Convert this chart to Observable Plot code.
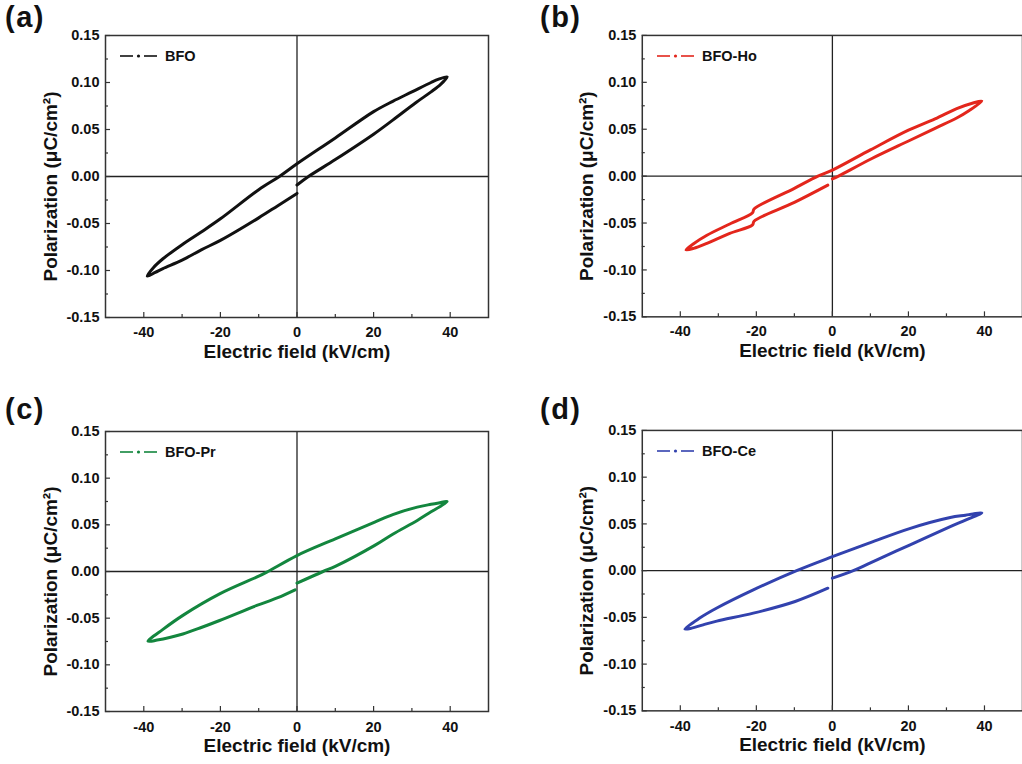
<!DOCTYPE html>
<html><head><meta charset="utf-8">
<script src="https://cdn.jsdelivr.net/npm/d3@7"></script>
<script src="https://cdn.jsdelivr.net/npm/@observablehq/plot@0.6"></script>
<style>
html,body{margin:0;padding:0;background:#fff;overflow:hidden;width:1022px;height:764px;}
#root{position:relative;width:1022px;height:764px;overflow:hidden;font-family:"Liberation Sans",Arial,sans-serif;font-weight:bold;color:#111;}
.panel{position:absolute;}
.panel svg{display:block;overflow:visible;}
.plabel{position:absolute;font-size:29px;line-height:29px;letter-spacing:1.5px;white-space:nowrap;}
.legend{position:absolute;display:flex;align-items:center;font-size:14.5px;line-height:16px;white-space:nowrap;}
</style></head><body><div id="root"></div>
<script>
// ---- data ----
// each loop: start at E=0 on lower branch -> +Emax tip -> upper branch -> -Emax tip -> lower branch back to E=0
const bfoE = [0, 3, 10, 20, 25, 31, 35, 37.5, 39.2, 37, 35, 30, 25, 20, 10, 0, -4.6, -10, -20, -25, -30, -35, -37.5, -39.1, -37, -35, -30, -25, -20, -10, -5, 0];
const bfoP = [-0.009, 0, 0.018, 0.045, 0.060, 0.0785, 0.0900, 0.098, 0.106, 0.1035, 0.100, 0.090, 0.080, 0.069, 0.041, 0.0135, 0, -0.014, -0.045, -0.059, -0.0725, -0.0875, -0.097, -0.106, -0.102, -0.098, -0.089, -0.078, -0.068, -0.044, -0.031, -0.018];

const hoE = [0, 1.6, 10, 20.3, 27, 32.7, 36, 39.3, 37, 32.7, 27, 20, 10, 0, -3.8, -10, -20.6, -21, -27, -33, -36.5, -38.5, -36.5, -33, -27, -21, -20.6, -10, -1.2];
const hoP = [-0.003, 0, 0.018, 0.038, 0.051, 0.062, 0.070, 0.080, 0.078, 0.072, 0.061, 0.049, 0.028, 0.0064, 0, -0.013, -0.035, -0.039, -0.051, -0.063, -0.072, -0.0787, -0.077, -0.0716, -0.061, -0.052, -0.048, -0.028, -0.0096];

const prE = [0, 6.8, 10, 20.3, 25, 31.4, 35, 37.5, 39.2, 37, 35, 31.4, 25, 20.3, 10, 0, -7.6, -10, -20.2, -29.8, -35, -38.9, -36.5, -33, -29.8, -25, -20.2, -10.5, -5, -0.5];
const prP = [-0.0125, 0, 0.0055, 0.028, 0.040, 0.0547, 0.064, 0.070, 0.075, 0.0735, 0.072, 0.069, 0.061, 0.053, 0.035, 0.0171, 0, -0.005, -0.024, -0.047, -0.062, -0.0747, -0.0735, -0.0705, -0.067, -0.060, -0.0525, -0.0364, -0.028, -0.0196];

const ceE = [0, 5.5, 10, 20.3, 31, 35, 39.3, 37, 35, 31, 20.3, 10, 0, -9.4, -20.8, -30.4, -35, -38.8, -37, -34, -30.4, -20.8, -9.8, -1.2];
const ceP = [-0.0081, 0, 0.0083, 0.0274, 0.047, 0.054, 0.0618, 0.0607, 0.0593, 0.0568, 0.045, 0.030, 0.0149, 0, -0.0206, -0.040, -0.051, -0.0625, -0.0615, -0.058, -0.054, -0.0455, -0.033, -0.0188];

const xMajor = [-40, -20, 0, 20, 40];
const xMinor = [-30, -10, 10, 30];
const yMajor = [-0.15, -0.10, -0.05, 0, 0.05, 0.10, 0.15];
const yMinor = [-0.125, -0.075, -0.025, 0.025, 0.075, 0.125];
const xLabel = "Electric field (kV/cm)";
const yLabel = "Polarization (μC/cm²)";
const letters = ["(a)", "(b)", "(c)", "(d)"];
const names = ["BFO", "BFO-Ho", "BFO-Pr", "BFO-Ce"];
const colors = ["#111111", "#e3261c", "#13863e", "#3242ae"];
const seriesE = [bfoE, hoE, prE, ceE];
const seriesP = [bfoP, hoP, prP, ceP];

// ---- layout ----
const layout = [
  {left: 0,   top: 0,   width: 511, height: 382, ml: 105, mr: 23, mt: 35, mb: 65, lx: 5,   ly: 3,   tp: 9},
  {left: 537, top: 0,   width: 486, height: 382, ml: 105, mr: 0,  mt: 35, mb: 65, lx: 540, ly: 3,   tp: 9},
  {left: 0,   top: 396, width: 511, height: 368, ml: 105, mr: 23, mt: 35, mb: 53, lx: 5,   ly: 395, tp: 10},
  {left: 537, top: 396, width: 486, height: 368, ml: 105, mr: 0,  mt: 34, mb: 53, lx: 540, ly: 395, tp: 10}
];

const root = document.getElementById("root");

letters.forEach((letter, k) => {
  const L = layout[k];
  const E = seriesE[k], P = seriesP[k];
  const rows = E.map((e, i) => ({E: e, P: P[i]}));
  const pw = L.width - L.ml - L.mr;
  const ph = L.height - L.mt - L.mb;
  const chart = Plot.plot({
    width: L.width, height: L.height,
    marginLeft: L.ml, marginRight: L.mr, marginTop: L.mt, marginBottom: L.mb,
    x: {domain: [-50, 50]},
    y: {domain: [-0.15, 0.15]},
    style: {fontFamily: "'Liberation Sans', Arial, sans-serif", fontSize: "14.5px", fontWeight: "bold", color: "#111", background: "transparent"},
    marks: [
      Plot.ruleY([0], {stroke: "#222", strokeWidth: 1.3}),
      Plot.ruleX([0], {stroke: "#222", strokeWidth: 1.3}),
      Plot.line(rows, {x: "E", y: "P", stroke: colors[k], strokeWidth: 3, curve: "catmull-rom", strokeLinejoin: "round", strokeLinecap: "round"}),
      Plot.frame({stroke: "#333", strokeWidth: 1.5}),
      Plot.ruleY(yMajor, {y: d => d, insetRight: pw - 5, stroke: "#333", strokeWidth: 1.2}),
      Plot.ruleY(yMinor, {y: d => d, insetRight: pw - 3, stroke: "#333", strokeWidth: 1.2}),
      Plot.ruleX(xMajor, {x: d => d, insetTop: ph - 5, stroke: "#333", strokeWidth: 1.2}),
      Plot.ruleX(xMinor, {x: d => d, insetTop: ph - 3, stroke: "#333", strokeWidth: 1.2}),
      Plot.axisX(xMajor, {tickSize: 0, tickPadding: L.tp, tickFormat: d => String(d), label: null}),
      Plot.axisY(yMajor, {tickSize: 0, tickPadding: 6, tickFormat: d => d.toFixed(2), label: null}),
      Plot.text([xLabel], {text: d => d, frameAnchor: "bottom", textAnchor: "middle", lineAnchor: "top", dy: 27, fontSize: 19}),
      Plot.text([yLabel], {text: d => d, frameAnchor: "left", textAnchor: "middle", lineAnchor: "middle", rotate: -90, dx: -55, dy: 10, fontSize: 19})
    ]
  });
  const wrap = document.createElement("div");
  wrap.className = "panel";
  wrap.style.left = L.left + "px";
  wrap.style.top = L.top + "px";
  wrap.appendChild(chart);
  root.appendChild(wrap);

  // panel letter
  const pl = document.createElement("div");
  pl.className = "plabel";
  pl.style.left = L.lx + "px";
  pl.style.top = L.ly + "px";
  pl.textContent = letter;
  root.appendChild(pl);

  // legend
  const lg = document.createElement("div");
  lg.className = "legend";
  lg.style.left = (L.left + L.ml + 15) + "px";
  lg.style.top = (L.top + L.mt + 13) + "px";
  const ns = "http://www.w3.org/2000/svg";
  const s = document.createElementNS(ns, "svg");
  s.setAttribute("width", 41); s.setAttribute("height", 16);
  const mk = (tag, attrs) => { const e = document.createElementNS(ns, tag); for (const a in attrs) e.setAttribute(a, attrs[a]); s.appendChild(e); };
  mk("line", {x1: 0, x2: 13, y1: 8, y2: 8, stroke: colors[k], "stroke-width": 1.6});
  mk("circle", {cx: 18.5, cy: 8, r: 1.6, fill: colors[k]});
  mk("line", {x1: 24, x2: 37, y1: 8, y2: 8, stroke: colors[k], "stroke-width": 1.6});
  lg.appendChild(s);
  const sp = document.createElement("span");
  sp.textContent = names[k];
  sp.style.marginLeft = "4px";
  lg.appendChild(sp);
  root.appendChild(lg);
});
</script></body></html>
